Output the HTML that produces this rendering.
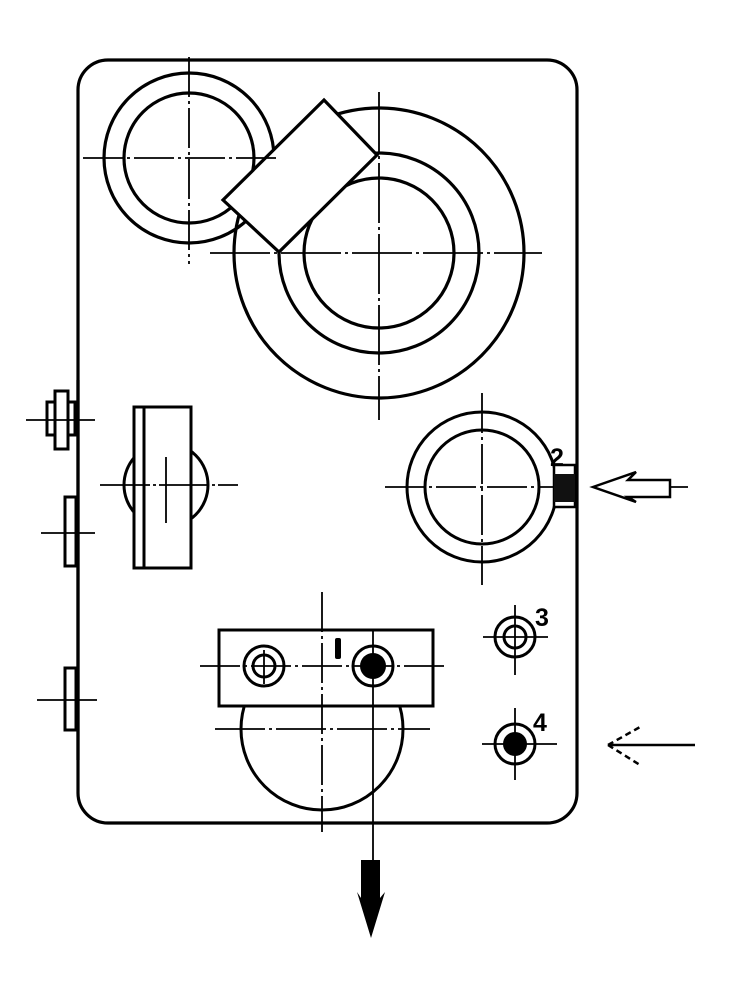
<!DOCTYPE html>
<html><head><meta charset="utf-8"><style>
html,body{margin:0;padding:0;background:#fff;}
svg{display:block;}
text{font-family:"Liberation Sans",sans-serif;font-weight:bold;}
</style></head><body>
<svg width="734" height="1000" viewBox="0 0 734 1000" xmlns="http://www.w3.org/2000/svg">
<rect width="734" height="1000" fill="#fff"/>
<g fill="none" stroke="#000" stroke-width="3.2">
<rect x="78" y="60" width="499" height="763" rx="30"/>
<circle cx="189" cy="158" r="85"/>
<circle cx="189" cy="158" r="65"/>
<circle cx="379" cy="253" r="145"/>
<circle cx="379" cy="253" r="100"/>
<circle cx="379" cy="253" r="75"/>
</g>
<polygon points="324,100 377,155 279,252 223,200" fill="#fff" stroke="#000" stroke-width="3.2"/>
<g stroke="#000" stroke-width="1.8" fill="none">
<line x1="83" y1="158" x2="277" y2="158" stroke-dasharray="40,4,3,4"/>
<line x1="189" y1="57" x2="189" y2="264" stroke-dasharray="40,4,3,4"/>
<line x1="210" y1="253" x2="542" y2="253" stroke-dasharray="60,4,3,4"/>
<line x1="379" y1="92" x2="379" y2="420" stroke-dasharray="60,4,3,4"/>
</g>
<g fill="#fff" stroke="#000" stroke-width="3">
<rect x="47" y="402" width="28" height="33"/>
<rect x="55" y="391" width="13" height="58"/>
<rect x="65" y="497" width="11" height="69"/>
<rect x="65" y="668" width="11" height="62"/>
</g>
<line x1="78" y1="380" x2="78" y2="760" stroke="#000" stroke-width="3.2"/>
<g stroke="#000" stroke-width="1.8">
<line x1="26" y1="420" x2="95" y2="420"/>
<line x1="41" y1="533" x2="95" y2="533"/>
<line x1="37" y1="700" x2="97" y2="700"/>
</g>
<circle cx="166" cy="485" r="42" fill="none" stroke="#000" stroke-width="3"/>
<rect x="134" y="407" width="57" height="161" fill="#fff" stroke="#000" stroke-width="3"/>
<line x1="144" y1="407" x2="144" y2="568" stroke="#000" stroke-width="3"/>
<g stroke="#000" stroke-width="1.8">
<line x1="100" y1="485" x2="238" y2="485" stroke-dasharray="50,3,3,3"/>
<line x1="166" y1="457" x2="166" y2="523"/>
</g>
<g fill="none" stroke="#000" stroke-width="3">
<circle cx="482" cy="487" r="75"/>
<circle cx="482" cy="487" r="57"/>
</g>
<g stroke="#000" stroke-width="1.8">
<line x1="385" y1="487" x2="556" y2="487" stroke-dasharray="40,4,3,4"/>
<line x1="482" y1="393" x2="482" y2="585" stroke-dasharray="40,4,3,4"/>
</g>
<rect x="554" y="465" width="21" height="42" fill="#fff" stroke="#000" stroke-width="2.5"/>
<rect x="554" y="474" width="21" height="28" fill="#111"/>
<text x="550" y="466" font-size="25">2</text>
<polygon points="593,487 636,472 628,480 670,480 670,497 628,497 636,502" fill="#fff" stroke="#000" stroke-width="2.5"/>
<line x1="670" y1="487" x2="688" y2="487" stroke="#000" stroke-width="1.8"/>
<g fill="none" stroke="#000" stroke-width="3">
<circle cx="515" cy="637" r="20"/>
<circle cx="515" cy="637" r="11"/>
<circle cx="515" cy="744" r="20"/>
</g>
<circle cx="515" cy="744" r="12" fill="#000"/>
<g stroke="#000" stroke-width="1.8">
<line x1="483" y1="637" x2="548" y2="637"/>
<line x1="515" y1="605" x2="515" y2="675"/>
<line x1="482" y1="744" x2="557" y2="744"/>
<line x1="515" y1="708" x2="515" y2="780"/>
</g>
<text x="535" y="626" font-size="25">3</text>
<text x="533" y="731" font-size="25">4</text>
<g stroke="#000" stroke-width="2.5">
<line x1="608" y1="745" x2="695" y2="745"/>
<line x1="608" y1="745" x2="640" y2="727" stroke-dasharray="6,4"/>
<line x1="608" y1="745" x2="640" y2="765" stroke-dasharray="6,4"/>
</g>
<circle cx="322" cy="729" r="81" fill="none" stroke="#000" stroke-width="3"/>
<rect x="219" y="630" width="214" height="76" fill="#fff" stroke="#000" stroke-width="3"/>
<g fill="none" stroke="#000" stroke-width="3">
<circle cx="264" cy="666" r="20"/>
<circle cx="264" cy="666" r="11"/>
<circle cx="373" cy="666" r="20"/>
</g>
<circle cx="373" cy="666" r="13" fill="#000"/>
<rect x="335" y="638" width="6" height="21" rx="2" fill="#000"/>
<g stroke="#000" stroke-width="1.8">
<line x1="200" y1="666" x2="445" y2="666" stroke-dasharray="40,4,3,4"/>
<line x1="322" y1="592" x2="322" y2="832" stroke-dasharray="40,4,3,4"/>
<line x1="215" y1="729" x2="430" y2="729" stroke-dasharray="50,4,3,4"/>
<line x1="373" y1="630" x2="373" y2="862"/>
<line x1="264" y1="650" x2="264" y2="684"/>
</g>
<polygon points="361,860 380,860 380,898 385,892 371,938 357,892 361,898" fill="#000"/>
</svg>
</body></html>
